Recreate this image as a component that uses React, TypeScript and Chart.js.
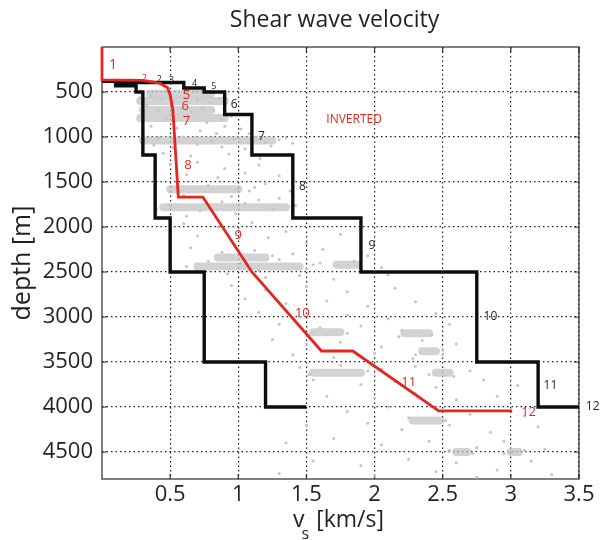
import React, { useEffect, useRef } from 'react';
import { Chart, registerables } from 'chart.js';

Chart.register(...registerables);

const TITLE = 'Shear wave velocity';
const Y_TITLE = 'depth [m]';
const X_TICKS = [0.5, 1, 1.5, 2, 2.5, 3, 3.5];
const DEPTH_TICKS = [500, 1000, 1500, 2000, 2500, 3000, 3500, 4000, 4500];

// inverted profile (red)
const invertedVs = [0, 0, 0.3, 0.42, 0.48, 0.5, 0.52, 0.56, 0.74, 1.1, 1.61, 1.84, 2.47, 3.01];
const invertedDepth = [0, 365, 370, 400, 450, 530, 700, 1667, 1667, 2500, 3378, 3378, 4044, 4044];

// lower bound of search range (black, left)
const lowerVs = [0, 0.1, 0.1, 0.25, 0.25, 0.3, 0.3, 0.39, 0.39, 0.5, 0.5, 0.75, 0.75, 1.2, 1.2, 1.5];
const lowerDepth = [380, 380, 430, 430, 500, 500, 1200, 1200, 1900, 1900, 2500, 2500, 3500, 3500, 4000, 4000];

// upper bound of search range (black, right)
const upperVs = [0.1, 0.6, 0.6, 0.75, 0.75, 0.9, 0.9, 1.1, 1.1, 1.4, 1.4, 1.9, 1.9, 2.75, 2.75, 3.2, 3.2, 3.5];
const upperDepth = [395, 395, 455, 455, 500, 500, 750, 750, 1200, 1200, 1900, 1900, 2500, 2500, 3500, 3500, 4000, 4000];

// layer numbers
const redLabels = ['1', '2', '5', '6', '7', '8', '9', '10', '11', '12'];
const redLabelVs = [0.08, 0.31, 0.62, 0.61, 0.62, 0.63, 1.0, 1.47, 2.25, 3.13];
const redLabelDepth = [200, 350, 533, 656, 822, 1311, 2089, 2955, 3722, 4055];

const blackLabels = ['2', '3', '4', '5', '6', '7', '8', '9', '10', '11', '12'];
const blackLabelVs = [0.42, 0.51, 0.68, 0.82, 0.97, 1.17, 1.47, 1.98, 2.85, 3.29, 3.6];
const blackLabelDepth = [360, 375, 405, 440, 644, 990, 1555, 2211, 3000, 3767, 4000];

const INVERTED_TEXT = 'INVERTED';
const invertedTextVs = 1.85;
const invertedTextDepth = 811;

// dense bands of tested models (gray)
const bandDepth = [520, 600, 700, 790, 1040, 1580, 1780, 2340, 2440, 2420, 3170, 3180, 3380, 3620, 3620, 4150, 4500, 4500];
const bandVsStart = [0.35, 0.28, 0.3, 0.28, 0.3, 0.5, 0.45, 0.85, 0.7, 1.72, 1.55, 2.22, 2.35, 1.55, 2.45, 2.28, 2.6, 3.0];
const bandVsEnd = [0.8, 0.9, 0.8, 0.9, 1.25, 1.0, 1.35, 1.2, 1.45, 1.88, 1.75, 2.4, 2.45, 1.9, 2.55, 2.48, 2.68, 3.06];

// scattered tested models (gray dots)
const sampleCloud: [number, number][] = [
  [0.28, 560], [0.36, 545], [0.44, 580], [0.52, 610], [0.61, 560], [0.7, 590], [0.79, 620], [0.86, 575],
  [0.33, 650], [0.41, 700], [0.58, 690], [0.66, 720], [0.74, 680], [0.82, 710], [0.31, 760], [0.47, 790],
  [0.63, 760], [0.77, 840], [0.88, 800], [0.95, 770], [0.36, 880], [0.55, 900], [0.72, 930], [0.9, 880],
  [1.02, 910], [0.3, 980], [0.42, 1010], [0.6, 1000], [0.81, 1040], [0.97, 1020], [1.12, 1000], [1.2, 1060],
  [1.3, 1030], [0.38, 1090], [0.52, 1120], [0.7, 1080], [0.88, 1110], [1.05, 1130], [1.24, 1100], [0.45, 1180],
  [0.65, 1210], [0.93, 1190], [1.16, 1240], [1.35, 1010], [1.4, 1070], [1.08, 960], [0.84, 960],
  [0.5, 1300], [0.7, 1280], [0.9, 1350], [1.15, 1310], [0.62, 1420], [0.85, 1450], [1.05, 1400], [1.3, 1430],
  [0.55, 1520], [0.78, 1540], [1.0, 1580], [1.2, 1520], [1.38, 1600], [0.6, 1650], [0.95, 1660], [1.15, 1700],
  [1.3, 1680], [0.5, 1760], [0.72, 1820], [0.98, 1850], [1.25, 1800], [1.42, 1760], [0.62, 1880],
  [1.08, 1600], [1.12, 1560], [0.4, 1800], [1.4, 1790], [0.88, 1720], [1.05, 1740],
  [0.6, 1960], [0.85, 2000], [1.1, 1950], [1.35, 2050], [0.7, 2100], [0.95, 2150], [1.22, 2120], [1.5, 2180],
  [1.75, 2080], [0.65, 2230], [0.88, 2280], [1.12, 2260], [1.4, 2300], [1.62, 2250], [1.95, 2320], [0.78, 2380],
  [1.02, 2400], [1.3, 2360], [1.55, 2420], [1.85, 2380], [2.05, 2450], [0.92, 2520], [1.2, 2560], [1.45, 2540],
  [1.7, 2580], [2.1, 2530], [0.62, 2440], [1.5, 2470], [1.6, 2400], [1.25, 2320], [1.15, 2480],
  [0.95, 2650], [1.2, 2700], [1.5, 2660], [1.8, 2720], [2.15, 2680], [1.05, 2800], [1.35, 2850], [1.65, 2820],
  [1.95, 2880], [2.3, 2830], [1.15, 2950], [1.45, 3000], [1.8, 2980], [2.1, 3020], [2.45, 2960], [1.3, 3080],
  [1.6, 3120], [1.9, 3100], [2.2, 3150], [2.55, 3080], [1.25, 3250], [1.5, 3300], [1.75, 3280], [2.05, 3330],
  [2.35, 3260], [2.6, 3300], [1.4, 3420], [1.7, 3450], [2.0, 3400], [2.28, 3460], [2.5, 3420],
  [1.52, 3200], [1.8, 3180], [2.18, 3220], [2.42, 3200], [2.3, 3420], [2.5, 3370],
  [1.45, 3560], [1.75, 3540], [2.05, 3580], [2.3, 3550], [2.7, 3600], [1.55, 3700], [1.9, 3750], [2.15, 3720],
  [2.45, 3780], [2.8, 3700], [3.05, 3760], [1.65, 3880], [2.0, 3900], [2.3, 3850], [2.6, 3920], [2.9, 3880],
  [1.8, 4050], [2.1, 4000], [2.7, 4080], [3.1, 4100], [1.5, 4200], [1.95, 4180], [2.2, 4250], [2.55, 4200],
  [2.85, 4280], [3.2, 4220], [1.35, 4400], [1.7, 4350], [2.05, 4420], [2.4, 4380], [2.75, 4450], [2.95, 4380],
  [3.25, 4470], [1.55, 4600], [1.9, 4650], [2.25, 4580], [2.6, 4620], [2.9, 4700], [3.15, 4600], [1.3, 4740],
  [2.0, 4760], [2.45, 4720], [2.75, 4780], [3.3, 4750], [1.52, 3640], [1.95, 3600], [2.4, 3640], [2.58, 3660],
  [2.25, 4120], [2.52, 4150], [2.55, 4480], [2.72, 4520], [2.95, 4520], [3.1, 4480],
];

const FONT = '"Open Sans", "DejaVu Sans", sans-serif';
const TEXT = '#231f20';
const RED = '#e4261f';

const pts = (xs: number[], ys: number[]) => xs.map((v, i) => ({ x: v, y: ys[i] }));

const annotationPlugin = {
  id: 'annotations',
  beforeDatasetsDraw(chart: any) {
    const { ctx, chartArea: a, scales } = chart;
    const x = scales.x;
    const y = scales.y;
    ctx.save();
    ctx.strokeStyle = '#2a2a2a';
    ctx.lineWidth = 1.2;
    ctx.strokeRect(a.left, a.top, a.right - a.left, a.bottom - a.top);
    ctx.beginPath();
    X_TICKS.forEach((v) => {
      const px = x.getPixelForValue(v);
      ctx.moveTo(px, a.bottom);
      ctx.lineTo(px, a.bottom - 5);
      ctx.moveTo(px, a.top);
      ctx.lineTo(px, a.top + 5);
    });
    DEPTH_TICKS.forEach((v) => {
      const py = y.getPixelForValue(v);
      ctx.moveTo(a.left, py);
      ctx.lineTo(a.left + 5, py);
      ctx.moveTo(a.right, py);
      ctx.lineTo(a.right - 5, py);
    });
    ctx.stroke();
    ctx.restore();
  },
  afterDraw(chart: any) {
    const { ctx, chartArea: a, scales } = chart;
    const x = scales.x;
    const y = scales.y;
    ctx.save();
    ctx.textAlign = 'center';
    ctx.textBaseline = 'middle';
    // title
    ctx.fillStyle = TEXT;
    ctx.font = `23px ${FONT}`;
    ctx.fillText(TITLE, (a.left + a.right) / 2 - 6, 20);

    // x axis title with subscript
    ctx.textBaseline = 'alphabetic';
    ctx.textAlign = 'left';
    ctx.font = `23px ${FONT}`;
    const wv = ctx.measureText('v').width;
    const main = '[km/s]';
    const wm = ctx.measureText(main).width;
    ctx.font = `16px ${FONT}`;
    const ws = ctx.measureText('s').width;
    const total = wv + ws + 4 + wm;
    const sx = (a.left + a.right) / 2 - total / 2 - 2;
    ctx.font = `23px ${FONT}`;
    ctx.fillText('v', sx, 527);
    ctx.fillText(main, sx + wv + ws + 4, 527);
    ctx.font = `16px ${FONT}`;
    ctx.fillText('s', sx + wv - 3, 539);

    ctx.textAlign = 'center';
    ctx.textBaseline = 'middle';
    // black layer numbers
    ctx.fillStyle = TEXT;
    blackLabels.forEach((t, i) => {
      ctx.font = `${i < 4 ? 9 : 12}px ${FONT}`;
      ctx.fillText(t, x.getPixelForValue(blackLabelVs[i]), y.getPixelForValue(blackLabelDepth[i]));
    });
    // red layer numbers
    ctx.fillStyle = RED;
    redLabels.forEach((t, i) => {
      ctx.font = `${i === 0 ? 14 : i === 1 ? 9 : 13}px ${FONT}`;
      ctx.fillText(t, x.getPixelForValue(redLabelVs[i]), y.getPixelForValue(redLabelDepth[i]));
    });
    ctx.font = `12px ${FONT}`;
    ctx.fillText(INVERTED_TEXT, x.getPixelForValue(invertedTextVs), y.getPixelForValue(invertedTextDepth));
    ctx.restore();
  },
};

export default function App() {
  const ref = useRef<HTMLCanvasElement>(null);

  useEffect(() => {
    if (!ref.current) return;
    const gridCommon = {
      color: '#1e1e1e',
      lineWidth: 1.2,
      drawTicks: false,
      borderDash: [1.5, 3],
    };
    const bands = bandDepth.map((d, i) => ({
      label: `band${i}`,
      data: [
        { x: bandVsStart[i], y: d },
        { x: bandVsEnd[i], y: d },
      ],
      showLine: true,
      borderColor: 'rgba(192,192,192,0.72)',
      borderWidth: 8,
      borderCapStyle: 'round',
      pointRadius: 0,
      order: 5,
    }));
    const chart = new Chart(ref.current, {
      type: 'scatter',
      data: {
        datasets: [
          {
            label: 'inverted',
            data: pts(invertedVs, invertedDepth),
            showLine: true,
            borderColor: RED,
            borderWidth: 2.8,
            pointRadius: 0,
            clip: false,
            order: 0,
          } as any,
          {
            label: 'upper',
            data: pts(upperVs, upperDepth),
            showLine: true,
            borderColor: '#0d0d0d',
            borderWidth: 3.4,
            pointRadius: 0,
            order: 1,
          },
          {
            label: 'lower',
            data: pts(lowerVs, lowerDepth),
            showLine: true,
            borderColor: '#0d0d0d',
            borderWidth: 3.4,
            pointRadius: 0,
            order: 2,
          },
          {
            label: 'samples',
            data: sampleCloud.map(([v, d]) => ({ x: v, y: d })),
            showLine: false,
            pointRadius: 1.5,
            pointBorderWidth: 0,
            backgroundColor: '#c4c4c4',
            order: 4,
          },
          ...(bands as any[]),
        ],
      },
      options: {
        responsive: false,
        animation: false,
        events: [],
        layout: { padding: { top: 47, right: 22, bottom: 0, left: 0 } },
        plugins: {
          legend: { display: false },
          tooltip: { enabled: false },
          title: { display: false },
        },
        scales: {
          x: {
            type: 'linear',
            min: 0,
            max: 3.5,
            afterBuildTicks: (s: any) => {
              s.ticks = X_TICKS.map((v) => ({ value: v }));
            },
            afterFit: (s: any) => {
              s.height = 61;
            },
            grid: gridCommon as any,
            border: { display: false, dash: [1.5, 3] },
            ticks: {
              autoSkip: false,
              maxRotation: 0,
              padding: 3,
              color: TEXT,
              font: { family: FONT, size: 22 },
              callback: (v: any) => String(v),
            },
          },
          y: {
            type: 'linear',
            reverse: true,
            min: 0,
            max: 4800,
            afterBuildTicks: (s: any) => {
              s.ticks = DEPTH_TICKS.map((v) => ({ value: v }));
            },
            afterFit: (s: any) => {
              s.width = 102;
            },
            grid: gridCommon as any,
            border: { display: false, dash: [1.5, 3] },
            ticks: {
              autoSkip: false,
              padding: 9,
              color: TEXT,
              font: { family: FONT, size: 22 },
              callback: (v: any) => String(v),
            },
            title: {
              display: true,
              text: Y_TITLE,
              color: TEXT,
              font: { family: FONT, size: 25 },
              padding: { top: 8, bottom: 0 },
            },
          },
        },
      },
      plugins: [annotationPlugin],
    });
    return () => chart.destroy();
  }, []);

  return (
    <div style={{ position: 'fixed', left: 0, top: 0, width: 601, height: 540, background: '#fff' }}>
      <canvas ref={ref} width={601} height={540} style={{ display: 'block' }} />
    </div>
  );
}
